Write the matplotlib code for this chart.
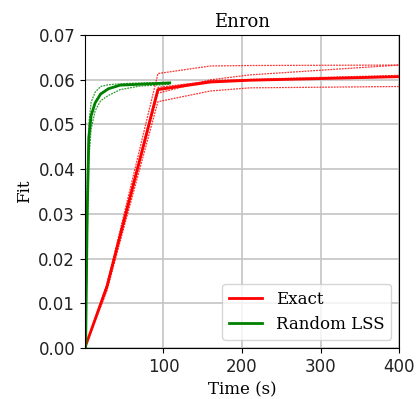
import matplotlib
matplotlib.use("Agg")
import matplotlib.pyplot as plt

# Exact method: individual runs and mean
exact_t = [0, 28, 93, 160, 210, 400]
exact_runs = [
    [0, 0.0140, 0.0614, 0.0631, 0.0632, 0.0633],
    [0, 0.0130, 0.0570, 0.0600, 0.0611, 0.0633],
    [0, 0.0128, 0.0551, 0.0575, 0.0582, 0.0585],
    [0, 0.0135, 0.0580, 0.0598, 0.0601, 0.0610],
    [0, 0.0142, 0.0583, 0.0597, 0.0600, 0.0606],
]
exact_mean = [0, 0.0137, 0.0578, 0.0595, 0.0599, 0.0607]

# Random LSS: individual runs and mean
lss_t = [1, 3, 5, 8, 13, 20, 30, 45, 70, 108]
lss_runs = [
    [0, 0.036, 0.050, 0.055, 0.0572, 0.0585, 0.0589, 0.0591, 0.0593, 0.0594],
    [0, 0.024, 0.042, 0.049, 0.0530, 0.0553, 0.0565, 0.0578, 0.0586, 0.0590],
    [0, 0.030, 0.047, 0.052, 0.0550, 0.0570, 0.0581, 0.0589, 0.0591, 0.0593],
]
lss_mean = [0, 0.030, 0.047, 0.052, 0.0548, 0.0568, 0.0580, 0.0588, 0.0590, 0.0593]

fig = plt.figure(figsize=(4.18, 3.99), dpi=100)
ax = fig.add_axes([0.203, 0.128, 0.752, 0.784])

for run in exact_runs:
    ax.plot(exact_t, run, color="red", lw=0.9, ls=(0, (1.5, 0.8)), alpha=0.8)
for run in lss_runs:
    ax.plot(lss_t, run, color="green", lw=0.9, ls=(0, (1.5, 0.8)), alpha=0.8)

ax.plot(exact_t, exact_mean, color="red", lw=2, label="Exact")
ax.plot(lss_t, lss_mean, color="green", lw=2, label="Random LSS")

ax.set_xlim(0, 400)
ax.set_ylim(0, 0.07)
ax.set_xticks([100, 200, 300, 400])
ax.set_yticks([0, 0.01, 0.02, 0.03, 0.04, 0.05, 0.06, 0.07])
ax.tick_params(labelsize=12, labelcolor="#222222")
ax.grid(True, color="#c4c4c4", lw=1.2)

ax.set_title("Enron", family="DejaVu Serif", fontsize=13)
ax.set_xlabel("Time (s)", family="DejaVu Serif", fontsize=12)
ax.set_ylabel("Fit", family="DejaVu Serif", fontsize=12)
ax.legend(loc="lower right", prop={"family": "DejaVu Serif", "size": 12})

fig.savefig("out.png", dpi=100)
